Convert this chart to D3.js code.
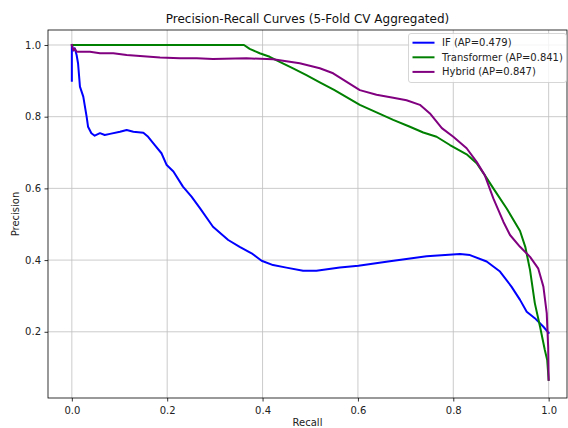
<!DOCTYPE html>
<html>
<head>
<meta charset="utf-8">
<script src="https://cdn.jsdelivr.net/npm/d3@7"></script>
<style>
  html,body{margin:0;padding:0;background:#fff;}
  svg{display:block;font-family:"DejaVu Sans",sans-serif;}
</style>
</head>
<body>
<svg id="chart" width="568" height="428"></svg>
<script>
const title="Precision-Recall Curves (5-Fold CV Aggregated)";
const xTicks=[0,0.2,0.4,0.6,0.8,1.0];
const yTicks=[0.2,0.4,0.6,0.8,1.0];

// IF curve
const ifRecall=[0,0,0.003,0.006,0.01,0.013,0.017,0.024,0.031,0.034,0.041,0.048,0.059,0.069,0.080,0.101,0.115,0.129,0.150,0.160,0.174,0.188,0.199,0.213,0.233,0.251,0.269,0.296,0.328,0.352,0.377,0.398,0.422,0.450,0.485,0.513,0.562,0.601,0.667,0.744,0.814,0.835,0.870,0.898,0.922,0.940,0.954,0.971,0.989,1.0];
const ifPrecision=[0.90,1.0,0.985,0.991,0.972,0.949,0.884,0.856,0.800,0.772,0.754,0.747,0.754,0.749,0.752,0.758,0.763,0.758,0.755,0.744,0.721,0.698,0.665,0.647,0.605,0.577,0.544,0.493,0.456,0.437,0.419,0.398,0.386,0.379,0.370,0.370,0.379,0.384,0.397,0.411,0.417,0.414,0.396,0.368,0.326,0.289,0.256,0.238,0.214,0.197];

const tfRecall=[0,0.361,0.373,0.394,0.415,0.436,0.464,0.492,0.52,0.55,0.604,0.639,0.674,0.709,0.737,0.765,0.793,0.828,0.849,0.866,0.884,0.912,0.94,0.951,0.961,0.971,0.982,0.992,0.997,1.0];
const tfPrecision=[1,1,0.989,0.977,0.967,0.953,0.935,0.916,0.896,0.875,0.833,0.812,0.791,0.772,0.756,0.744,0.721,0.695,0.670,0.637,0.600,0.544,0.481,0.437,0.372,0.280,0.214,0.149,0.121,0.066];

const hyRecall=[0,0.003,0.006,0.01,0.038,0.059,0.087,0.115,0.143,0.185,0.227,0.262,0.296,0.366,0.422,0.478,0.520,0.548,0.604,0.639,0.674,0.702,0.730,0.751,0.776,0.800,0.828,0.849,0.866,0.884,0.905,0.919,0.940,0.961,0.978,0.989,0.996,0.999,1.0];
const hyPrecision=[1.0,0.985,0.99,0.981,0.981,0.977,0.977,0.972,0.969,0.965,0.963,0.963,0.961,0.963,0.960,0.949,0.935,0.921,0.874,0.861,0.853,0.846,0.833,0.809,0.768,0.744,0.712,0.674,0.637,0.572,0.507,0.470,0.437,0.409,0.377,0.326,0.252,0.158,0.066];

const seriesNames=["IF (AP=0.479)","Transformer (AP=0.841)","Hybrid (AP=0.847)"];
const seriesColors=["#0000ff","#008000","#800080"];

const series=[
  {name:seriesNames[0],color:seriesColors[0],pts:ifRecall.map((r,i)=>[r,ifPrecision[i]])},
  {name:seriesNames[1],color:seriesColors[1],pts:tfRecall.map((r,i)=>[r,tfPrecision[i]])},
  {name:seriesNames[2],color:seriesColors[2],pts:hyRecall.map((r,i)=>[r,hyPrecision[i]])}
];

const svg=d3.select("#chart");
const L=48,R=567,T=30,B=398;

const x=d3.scaleLinear().domain([-0.05,1.0385]).range([L,R]);
const y=d3.scaleLinear().domain([0.0153,1.0418]).range([B,T]);

// grid
const grid=svg.append("g").attr("stroke","#b0b0b0").attr("stroke-width",0.8).attr("opacity",0.8);
grid.selectAll(".gx").data(xTicks).join("line")
  .attr("x1",d=>x(d)).attr("x2",d=>x(d)).attr("y1",T).attr("y2",B);
grid.selectAll(".gy").data(yTicks).join("line")
  .attr("x1",L).attr("x2",R).attr("y1",d=>y(d)).attr("y2",d=>y(d));

// curves
const line=d3.line().x(d=>x(d[0])).y(d=>y(d[1]));
svg.append("g").selectAll("path").data(series).join("path")
  .attr("d",d=>line(d.pts)).attr("fill","none")
  .attr("stroke",d=>d.color).attr("stroke-width",2)
  .attr("stroke-linejoin","round").attr("stroke-linecap","square");

// axes
const xAxis=svg.append("g").attr("transform",`translate(0,${B})`)
  .call(d3.axisBottom(x).tickValues(xTicks).tickFormat(d3.format(".1f")).tickSize(3.5).tickPadding(5).tickSizeOuter(0));
const yAxis=svg.append("g").attr("transform",`translate(${L},0)`)
  .call(d3.axisLeft(y).tickValues(yTicks).tickFormat(d3.format(".1f")).tickSize(3.5).tickPadding(3.5).tickSizeOuter(0));
[xAxis,yAxis].forEach(a=>{
  a.select(".domain").remove();
  a.selectAll("line").attr("stroke","#000").attr("stroke-width",0.8);
  a.selectAll("text").attr("font-size",10).attr("font-family","DejaVu Sans, sans-serif").attr("fill","#222");
});

// frame
svg.append("rect").attr("x",L).attr("y",T).attr("width",R-L).attr("height",B-T)
  .attr("fill","none").attr("stroke","#000").attr("stroke-width",0.8);

// labels
svg.append("text").attr("x",(L+R)/2).attr("y",22.5).attr("text-anchor","middle")
  .attr("font-size",12).attr("fill","#111").text(title);
svg.append("text").attr("x",(L+R)/2).attr("y",426).attr("text-anchor","middle")
  .attr("font-size",10).attr("fill","#222").text("Recall");
svg.append("text").attr("transform",`translate(18.5,${(T+B)/2}) rotate(-90)`).attr("text-anchor","middle")
  .attr("font-size",10).attr("fill","#222").text("Precision");

// legend
const lg=svg.append("g").attr("transform","translate(408.5,33.5)");
lg.append("rect").attr("width",158).attr("height",49).attr("rx",2.5)
  .attr("fill","#fff").attr("fill-opacity",0.8).attr("stroke","#cccccc").attr("stroke-width",0.8);
const items=lg.selectAll("g").data(series).join("g")
  .attr("transform",(d,i)=>`translate(0,${9.2+i*14.6})`);
items.append("line").attr("x1",4).attr("x2",26).attr("stroke",d=>d.color).attr("stroke-width",2);
items.append("text").attr("x",33.5).attr("dy","0.35em").attr("font-size",10).attr("fill","#222").text(d=>d.name);
</script>
</body>
</html>
